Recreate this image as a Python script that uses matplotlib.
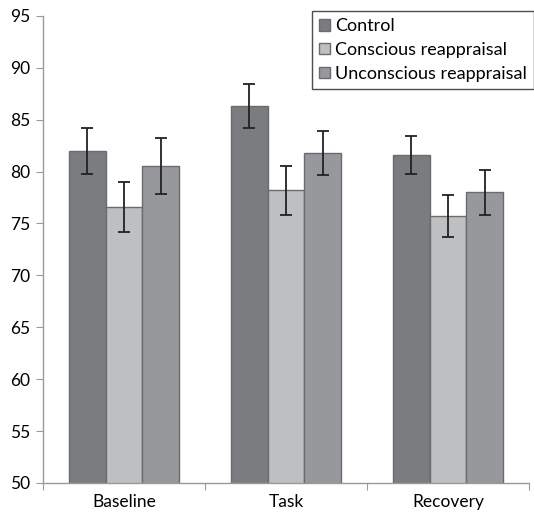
import numpy as np
import matplotlib.pyplot as plt

plt.rcParams['font.family'] = ['Lato', 'DejaVu Sans']

categories = ['Baseline', 'Task', 'Recovery']
series = ['Control', 'Conscious reappraisal', 'Unconscious reappraisal']
control = [82.0, 86.3, 81.6]
conscious = [76.6, 78.2, 75.7]
unconscious = [80.5, 81.8, 78.0]
control_err = [2.2, 2.1, 1.8]
conscious_err = [2.4, 2.35, 2.0]
unconscious_err = [2.7, 2.1, 2.2]

colors = ['#7b7c80', '#bebfc1', '#97989b']
values = [control, conscious, unconscious]
errors = [control_err, conscious_err, unconscious_err]

fig = plt.figure(figsize=(5.34, 5.13), dpi=100)
ax = fig.add_axes([0.0805, 0.0585, 0.91, 0.9105])

x = np.arange(len(categories))
w = 0.226
for i in range(3):
    ax.bar(x + (i - 1) * w, values[i], w, color=colors[i], edgecolor='#6a6b6e',
           linewidth=1.0, label=series[i], zorder=2,
           yerr=errors[i], error_kw=dict(ecolor='#222222', elinewidth=1.3,
                                         capsize=4.5, capthick=1.3, zorder=3))

ax.set_ylim(50, 95)
ax.set_yticks(np.arange(50, 96, 5))
ax.set_xlim(-0.5, 2.5)
ax.set_xticks([-0.5, 0.5, 1.5, 2.5])
ax.set_xticklabels([])
ax.set_xticks(x, minor=True)
ax.set_xticklabels(categories, minor=True)
ax.tick_params(axis='x', which='minor', length=0, pad=8, labelsize=12.5)
ax.tick_params(axis='x', which='major', length=5, color='#999999', direction='out')
ax.tick_params(axis='y', length=5, color='#999999', labelsize=12.5, pad=4)

for s in ['top', 'right']:
    ax.spines[s].set_visible(False)
for s in ['left', 'bottom']:
    ax.spines[s].set_color('#999999')
    ax.spines[s].set_linewidth(1.0)

leg = ax.legend(loc='upper right', bbox_to_anchor=(1.01, 1.01), fontsize=13,
                frameon=True, fancybox=False, edgecolor='#222222',
                handlelength=0.6, handleheight=0.6, handletextpad=0.25,
                labelspacing=0.42, borderpad=0.4, borderaxespad=0.0)
leg.get_frame().set_linewidth(1.0)

fig.savefig('out.png', dpi=100)
